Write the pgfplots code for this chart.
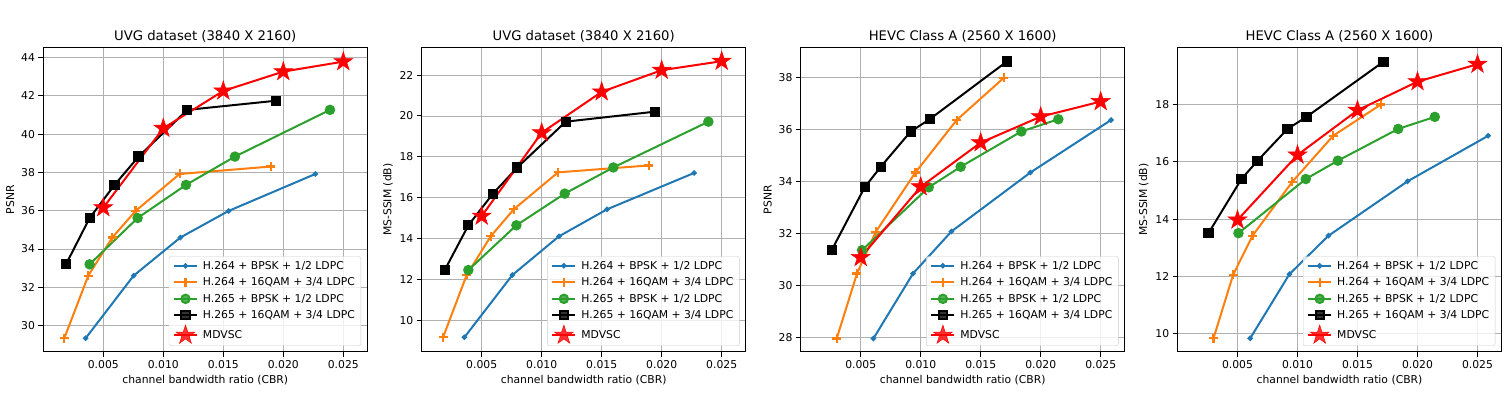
\documentclass[border=0pt]{standalone}
\usepackage{fontspec}
\setmainfont{DejaVu Sans}
\usepackage{pgfplots}
\pgfplotsset{compat=1.18}

\definecolor{mblue}{HTML}{1F77B4}
\definecolor{morange}{HTML}{FF7F0E}
\definecolor{mgreen}{HTML}{2CA02C}
\definecolor{mgrid}{HTML}{B0B0B0}

% filled five-point star, like matplotlib's '*'
\pgfdeclareplotmark{fstar}{%
  \pgfpathmoveto{\pgfpointpolar{90}{\pgfplotmarksize}}%
  \pgfpathlineto{\pgfpointpolar{126}{0.382\pgfplotmarksize}}%
  \pgfpathlineto{\pgfpointpolar{162}{\pgfplotmarksize}}%
  \pgfpathlineto{\pgfpointpolar{198}{0.382\pgfplotmarksize}}%
  \pgfpathlineto{\pgfpointpolar{234}{\pgfplotmarksize}}%
  \pgfpathlineto{\pgfpointpolar{270}{0.382\pgfplotmarksize}}%
  \pgfpathlineto{\pgfpointpolar{306}{\pgfplotmarksize}}%
  \pgfpathlineto{\pgfpointpolar{342}{0.382\pgfplotmarksize}}%
  \pgfpathlineto{\pgfpointpolar{18}{\pgfplotmarksize}}%
  \pgfpathlineto{\pgfpointpolar{54}{0.382\pgfplotmarksize}}%
  \pgfpathclose
  \pgfusepathqfillstroke
}

\newcommand{\tickfont}{\fontsize{10.8}{13}\selectfont}

\pgfplotsset{
  panel/.style={
    scale only axis, width=324pt, height=304.7pt,
    xmin=0, xmax=0.027,
    scaled x ticks=false,
    xtick={0.005,0.01,0.015,0.02,0.025},
    xticklabels={0.005,0.010,0.015,0.020,0.025},
    grid=major, grid style={mgrid, line width=0.9pt},
    axis line style={line width=1pt},
    tick align=outside, tick pos=left,
    major tick length=4.8pt, tick style={black, line width=1pt},
    tick label style={font=\tickfont},
    label style={font=\tickfont},
    title style={font=\fontsize{13.2}{16}\selectfont, yshift=-4pt},
    /pgf/number format/assume math mode=true,
    xlabel={channel bandwidth ratio (CBR)},
    legend cell align=left,
    legend style={at={(0.981,0.02)}, anchor=south east, font=\tickfont,
      draw=black!20, rounded corners=2pt, fill=white, fill opacity=0.8,
      text opacity=1, inner xsep=4pt, inner ysep=2.5pt, row sep=3pt,
      column sep=3pt},
    every axis plot/.append style={line width=2pt,
      legend image code/.code={\draw[mark repeat=2,mark phase=2]
        plot coordinates {(0pt,0pt)(11.5pt,0pt)(23pt,0pt)};}},
  },
  sblue/.style={mblue, mark=*, mark size=1.6pt},
  sorange/.style={morange, mark=+, mark size=4.5pt, mark options={line width=2.2pt}},
  sgreen/.style={mgreen, mark=*, mark size=4.2pt},
  sblack/.style={black, mark=square*, mark size=4.1pt},
  sred/.style={red, mark=fstar, mark size=10pt, mark options={line width=0.5pt}},
}

\begin{document}
\begin{tikzpicture}
\useasboundingbox (0,0) rectangle (1504pt,395pt);

% UVG, PSNR
\begin{axis}[panel, at={(43.3pt,43pt)}, anchor=south west,
  title={UVG dataset (3840 X 2160)}, ylabel={PSNR},
  ymin=28.62, ymax=44.54, ytick={30,32,...,44}]
\addplot[sblue] coordinates {(0.00353,29.34)(0.00753,32.61)(0.01142,34.60)(0.01544,35.99)(0.02267,37.92)};
\addplot[sorange] coordinates {(0.00175,29.34)(0.00375,32.61)(0.00575,34.60)(0.00769,35.99)(0.01136,37.92)(0.01897,38.31)};
\addplot[sgreen] coordinates {(0.00386,33.20)(0.00786,35.62)(0.01189,37.35)(0.01597,38.83)(0.02389,41.27)};
\addplot[sblack] coordinates {(0.00189,33.20)(0.00386,35.62)(0.00594,37.35)(0.00794,38.83)(0.012,41.27)(0.01942,41.75)};
\addplot[sred] coordinates {(0.005,36.16)(0.01,40.31)(0.015,42.26)(0.02,43.27)(0.025,43.79)};
\legend{H.264 + BPSK + 1/2 LDPC, H.264 + 16QAM + 3/4 LDPC, H.265 + BPSK + 1/2 LDPC, H.265 + 16QAM + 3/4 LDPC, MDVSC}
\end{axis}

% UVG, MS-SSIM
\begin{axis}[panel, at={(421.7pt,43pt)}, anchor=south west,
  title={UVG dataset (3840 X 2160)}, ylabel={MS-SSIM (dB)},
  ymin=8.45, ymax=23.36, ytick={10,12,...,22}]
\addplot[sblue] coordinates {(0.00356,9.17)(0.00756,12.22)(0.01144,14.11)(0.01544,15.43)(0.0227,17.21)};
\addplot[sorange] coordinates {(0.00178,9.17)(0.00375,12.22)(0.00575,14.11)(0.00767,15.43)(0.01136,17.24)(0.01894,17.58)};
\addplot[sgreen] coordinates {(0.00389,12.46)(0.00789,14.65)(0.01192,16.20)(0.01597,17.48)(0.02389,19.72)};
\addplot[sblack] coordinates {(0.00192,12.46)(0.00389,14.65)(0.00594,16.20)(0.00797,17.48)(0.012,19.72)(0.01944,20.21)};
\addplot[sred] coordinates {(0.005,15.10)(0.01,19.18)(0.015,21.18)(0.02,22.24)(0.025,22.68)};
\legend{H.264 + BPSK + 1/2 LDPC, H.264 + 16QAM + 3/4 LDPC, H.265 + BPSK + 1/2 LDPC, H.265 + 16QAM + 3/4 LDPC, MDVSC}
\end{axis}

% HEVC Class A, PSNR
\begin{axis}[panel, at={(800.7pt,43pt)}, anchor=south west,
  title={HEVC Class A (2560 X 1600)}, ylabel={PSNR},
  ymin=27.44, ymax=39.17, ytick={28,30,...,38}]
\addplot[sblue] coordinates {(0.00606,27.96)(0.00936,30.46)(0.01256,32.08)(0.01914,34.35)(0.02586,36.37)};
\addplot[sorange] coordinates {(0.003,27.96)(0.00469,30.46)(0.00625,32.06)(0.00956,34.35)(0.013,36.37)(0.01694,38.0)};
\addplot[sgreen] coordinates {(0.00511,31.36)(0.01067,33.78)(0.01333,34.57)(0.01839,35.93)(0.02147,36.40)};
\addplot[sblack] coordinates {(0.00258,31.36)(0.00533,33.78)(0.00667,34.57)(0.00917,35.93)(0.01075,36.40)(0.01717,38.62)};
\addplot[sred] coordinates {(0.005,31.08)(0.01,33.80)(0.015,35.50)(0.02,36.50)(0.025,37.08)};
\legend{H.264 + BPSK + 1/2 LDPC, H.264 + 16QAM + 3/4 LDPC, H.265 + BPSK + 1/2 LDPC, H.265 + 16QAM + 3/4 LDPC, MDVSC}
\end{axis}

% HEVC Class A, MS-SSIM
\begin{axis}[panel, at={(1177.5pt,43pt)}, anchor=south west,
  title={HEVC Class A (2560 X 1600)}, ylabel={MS-SSIM (dB)},
  ymin=9.36, ymax=20.0, ytick={10,12,...,18}]
\addplot[sblue] coordinates {(0.00606,9.84)(0.00933,12.08)(0.01258,13.42)(0.01917,15.32)(0.02589,16.91)};
\addplot[sorange] coordinates {(0.003,9.84)(0.00464,12.06)(0.00625,13.42)(0.00956,15.30)(0.01297,16.91)(0.01694,18.0)};
\addplot[sgreen] coordinates {(0.00508,13.51)(0.01069,15.40)(0.01336,16.04)(0.01839,17.15)(0.02144,17.57)};
\addplot[sblack] coordinates {(0.00258,13.51)(0.00533,15.40)(0.00667,16.04)(0.00917,17.15)(0.01075,17.57)(0.01717,19.50)};
\addplot[sred] coordinates {(0.005,13.97)(0.01,16.24)(0.015,17.80)(0.02,18.80)(0.025,19.41)};
\legend{H.264 + BPSK + 1/2 LDPC, H.264 + 16QAM + 3/4 LDPC, H.265 + BPSK + 1/2 LDPC, H.265 + 16QAM + 3/4 LDPC, MDVSC}
\end{axis}
\end{tikzpicture}
\end{document}
